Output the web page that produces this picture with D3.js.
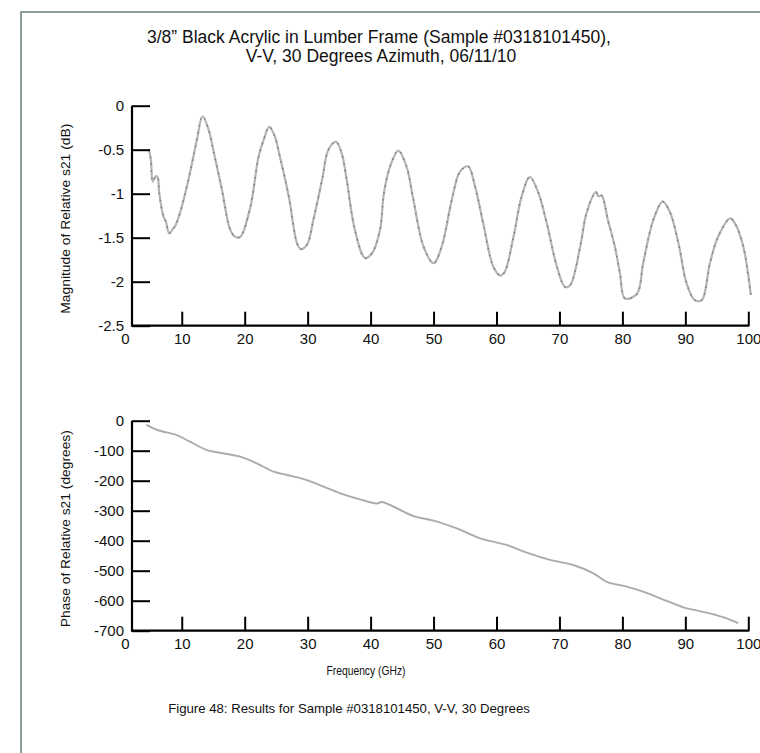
<!DOCTYPE html>
<html>
  <head>
    <meta charset="utf-8">
    <script src="https://d3js.org/d3.v7.min.js"></script>
    <style>
      body { margin:0; background:#fff; }
      svg { display:block; font-family:"Liberation Sans", Arial, sans-serif; }
      .axis text { font-size:15px; fill:#111; }
      .axis line, .axis path { stroke:#000; stroke-width:2px; }
    </style>
  </head>
  <body>
    <script>
    // Magnitude of relative s21 (dB)
    var magFreq = [4.8, 5.1, 5.4, 5.9, 6.2, 6.4, 7.1, 7.5, 8.0, 8.6, 9.0, 9.8, 11.1, 12.4, 13.3, 14.3, 15.0, 16.4, 17.7, 18.5,
      19.3, 20.9, 22.2, 23.0, 23.9, 24.8, 25.4, 27.0, 28.3, 28.9, 29.9, 30.9, 32.3, 33.3, 34.5, 35.4, 36.2, 37.5, 39.1, 40.2,
      41.5, 42.1, 43.1, 44.4, 45.7, 46.8, 48.4, 50.0, 51.3, 52.9, 54.2, 55.5, 56.6, 57.9, 59.5, 60.6, 61.3, 62.7, 64.0, 65.3,
      66.6, 68.0, 69.6, 70.9, 71.7, 73.3, 74.3, 75.8, 76.2, 76.7, 77.7, 78.8, 79.6, 80.4, 82.3, 83.3, 84.9, 86.4, 87.5, 88.9,
      90.2, 91.5, 92.6, 93.9, 95.2, 97.1, 97.9, 99.2, 100.4];
    var magDb = [-0.5, -0.62, -0.86, -0.8, -0.82, -0.98, -1.26, -1.32, -1.45, -1.4, -1.36, -1.2, -0.83, -0.39, -0.12, -0.28, -0.5, -0.96, -1.41, -1.49,
      -1.49, -1.15, -0.58, -0.39, -0.24, -0.35, -0.52, -1.03, -1.56, -1.63, -1.58, -1.3, -0.84, -0.5, -0.41, -0.54, -0.84, -1.41, -1.73, -1.68,
      -1.41, -1.0, -0.69, -0.51, -0.69, -1.07, -1.6, -1.79, -1.6, -1.07, -0.75, -0.69, -0.92, -1.34, -1.83, -1.93, -1.89, -1.49, -1.03, -0.81,
      -0.98, -1.34, -1.83, -2.06, -2.04, -1.6, -1.22, -0.98, -1.03, -1.02, -1.3, -1.6, -1.9, -2.19, -2.14, -1.79, -1.3, -1.09, -1.2, -1.56,
      -2.02, -2.21, -2.21, -1.79, -1.49, -1.28, -1.34, -1.6, -2.15];

    // Phase of relative s21 (degrees), bottom panel
    var phaseFreq = [4.4, 6.1, 9.2, 11.3, 14.0, 16.1, 19.3, 21.9, 24.6, 26.7, 29.9, 32.5, 35.2, 38.3, 41.0, 41.8, 43.1,
      46.8, 50.0, 53.7, 57.4, 61.6, 64.8, 68.5, 72.2, 75.4, 77.5, 80.7, 83.3, 86.0, 89.7, 92.8, 96.0, 98.4];
    var phaseDeg = [-14, -31, -48, -70, -98, -107, -120, -142, -170, -181, -198, -220, -242, -262, -276, -271, -281,
      -318, -333, -359, -392, -414, -440, -464, -481, -509, -537, -553, -570, -592, -622, -637, -655, -675];

    var xTicks = [0, 10, 20, 30, 40, 50, 60, 70, 80, 90, 100];
    var magTicks = [0, -0.5, -1, -1.5, -2, -2.5];
    var phaseTicks = [0, -100, -200, -300, -400, -500, -600, -700];

    var width = 760, height = 753;
    var axisX = 132; // where the vertical axis line sits

    var svg = d3.select("body").append("svg")
        .attr("width", width)
        .attr("height", height);

    // page frame (top and left rule)
    svg.append("path")
      .attr("d", "M21,753V12H760")
      .attr("fill", "none")
      .attr("stroke", "#8a9d9e")
      .attr("stroke-width", 2);

    // title
    var title = svg.append("text")
      .attr("text-anchor", "middle")
      .attr("font-size", "17.5px")
      .attr("fill", "#111");
    title.append("tspan").attr("x", 379).attr("y", 43)
      .text("3/8\u201d Black Acrylic in Lumber Frame (Sample #0318101450),");
    title.append("tspan").attr("x", 381).attr("y", 62)
      .text("V-V, 30 Degrees Azimuth, 06/11/10");

    var x = d3.scaleLinear().domain([0, 100]).range([118.8, 748.3]);

    function panel(top, bottom, yDomain, yTicks, freq, vals, label, style) {
      var y = d3.scaleLinear().domain(yDomain).range([bottom, top]);

      var line = d3.line()
        .x(function(d) { return x(d[0]); })
        .y(function(d) { return y(d[1]); })
        .curve(d3.curveCatmullRom.alpha(0.5));
      var pts = d3.zip(freq, vals);

      if (style == "dotted") {
        svg.append("path").datum(pts)
          .attr("d", line).attr("fill", "none")
          .attr("stroke", "#b4b4b4").attr("stroke-width", 2.2);
        svg.append("path").datum(pts)
          .attr("d", line).attr("fill", "none")
          .attr("stroke", "#7c7c7c").attr("stroke-width", 1.5)
          .attr("stroke-dasharray", "1.5,5.5");
      } else {
        svg.append("path").datum(pts)
          .attr("d", line).attr("fill", "none")
          .attr("stroke", "#ababab").attr("stroke-width", 1.9);
      }

      // y axis: ticks point inward, labels on the left
      var ya = svg.append("g").attr("class", "axis")
        .attr("transform", "translate(" + axisX + ",0)")
        .call(d3.axisLeft(y).tickValues(yTicks).tickSize(-18).tickSizeOuter(0)
          .tickPadding(8).tickFormat(function(d) { return String(d); }));
      ya.select(".domain").remove();
      ya.selectAll(".tick line").attr("stroke-width", 2.5);

      // x axis: ticks point up, no tick at 0
      var xa = svg.append("g").attr("class", "axis")
        .attr("transform", "translate(0," + bottom + ")")
        .call(d3.axisBottom(x).tickValues(xTicks).tickSize(-14).tickPadding(8));
      xa.select(".domain").remove();
      xa.selectAll(".tick line").filter(function(d) { return d == 0; }).remove();
      xa.selectAll(".tick text").filter(function(d) { return d == 0; }).attr("x", 6);

      // axis frame lines
      svg.append("path")
        .attr("d", "M" + axisX + "," + y(yDomain[1]) + "V" + bottom + "H" + (x(100) + 1))
        .attr("fill", "none")
        .attr("stroke", "#000")
        .attr("stroke-width", 2.2);

      svg.append("text")
        .attr("transform", "translate(70," + ((top + bottom) / 2 + 3) + ") rotate(-90)")
        .attr("text-anchor", "middle")
        .attr("font-size", "13px")
        .attr("fill", "#111")
        .attr("textLength", label[1])
        .attr("lengthAdjust", "spacingAndGlyphs")
        .text(label[0]);
    }

    panel(105.7, 325.7, [-2.5, 0], magTicks, magFreq, magDb, ["Magnitude of Relative s21 (dB)", 190], "dotted");
    panel(420.7, 630.7, [-700, 0], phaseTicks, phaseFreq, phaseDeg, ["Phase of Relative s21 (degrees)", 197], "solid");

    svg.append("text")
      .attr("x", 366).attr("y", 675)
      .attr("text-anchor", "middle")
      .attr("font-size", "13px")
      .attr("fill", "#111")
      .attr("textLength", 79)
      .attr("lengthAdjust", "spacingAndGlyphs")
      .text("Frequency (GHz)");

    svg.append("text")
      .attr("x", 349).attr("y", 713)
      .attr("text-anchor", "middle")
      .attr("font-size", "13.2px")
      .attr("fill", "#111")
      .text("Figure 48: Results for Sample #0318101450, V-V, 30 Degrees");
    </script>
  </body>
</html>
